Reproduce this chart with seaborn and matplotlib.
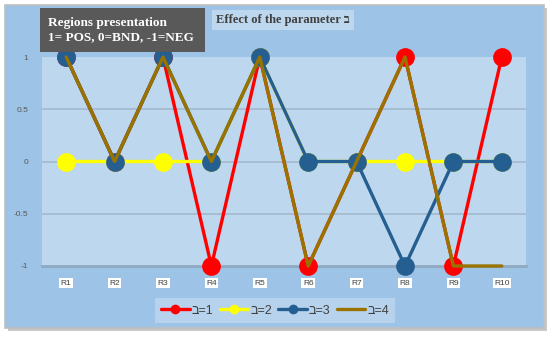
import numpy as np
import pandas as pd
import matplotlib
matplotlib.use("Agg")
import matplotlib.pyplot as plt
from matplotlib.patches import Rectangle
from matplotlib.lines import Line2D
import seaborn as sns

# data
regions = ["R1", "R2", "R3", "R4", "R5", "R6", "R7", "R8", "R9", "R10"]
bet1 = [1, 0, 1, -1, 1, -1, 0, 1, -1, 1]
bet2 = [0, 0, 0, 0, 1, 0, 0, 0, 0, 0]
bet3 = [1, 0, 1, 0, 1, 0, 0, -1, 0, 0]
bet4 = [1, 0, 1, 0, 1, -1, 0, 1, -1, -1]
series_names = ["\u05d1=1", "\u05d1=2", "\u05d1=3", "\u05d1=4"]
y_ticks = [-1, -0.5, 0, 0.5, 1]

sns.set_theme(style="white")
plt.rcParams['font.family'] = ['Liberation Sans', 'DejaVu Sans']

W, H = 550, 337
fig = plt.figure(figsize=(W / 100, H / 100), dpi=100)
fig.patch.set_facecolor("white")

# chart area with a soft shadow
fig.patches.append(Rectangle((8 / W, 1 - 331 / H), 539 / W, 323 / H,
                             transform=fig.transFigure, facecolor="#c8c8c8",
                             edgecolor="none", zorder=0))
fig.patches.append(Rectangle((5 / W, 1 - 328 / H), 539 / W, 323 / H,
                             transform=fig.transFigure, facecolor="#9dc3e6",
                             edgecolor="#bfbfbf", linewidth=1.2, zorder=1))

left, right, top, bottom = 42, 526, 57, 266
ax = fig.add_axes([left / W, 1 - bottom / H, (right - left) / W, (bottom - top) / H])
ax.set_facecolor("#bdd7ee")
ax.set_zorder(2)

pos = np.arange(len(regions))
df = pd.DataFrame({"pos": pos, "b1": bet1, "b2": bet2, "b3": bet3, "b4": bet4})

styles = [
    ("b1", "#ff0000", "o"),
    ("b2", "#ffff00", "o"),
    ("b3", "#255e91", "o"),
    ("b4", "#997300", None),
]
proxies = []
for i, (col, color, mk) in enumerate(styles):
    kw = dict(marker=mk, markersize=13.5, markeredgewidth=0) if mk else {}
    sns.lineplot(data=df, x="pos", y=col, ax=ax, color=color, linewidth=2.4,
                 clip_on=False, zorder=3 + i, **kw)
    proxies.append(Line2D([], [], color=color, linewidth=2.4, marker=mk,
                          markersize=7, markeredgewidth=0))

ax.set_xlim(-0.5, len(regions) - 0.5)
ax.set_ylim(-1, 1)
ax.set_xlabel("")
ax.set_ylabel("")
ax.set_yticks(y_ticks)
ax.set_yticklabels(["-1", "-0.5", "0", "0.5", "1"], fontsize=6, color="#595959")
ax.set_xticks(pos)
ax.set_xticklabels(regions, fontsize=6, color="#404040")
for t in ax.get_xticklabels():
    t.set_bbox(dict(facecolor="white", edgecolor="none", pad=1))
ax.tick_params(axis="x", length=0, pad=10)
ax.tick_params(axis="y", length=0, pad=10)
for y in [0.5, 0, -0.5]:
    ax.axhline(y, color="#a3b8cc", linewidth=1.2, zorder=1)
for s in ["top", "left", "right"]:
    ax.spines[s].set_visible(False)
ax.spines["bottom"].set_color("#8faac2")
ax.spines["bottom"].set_linewidth(2)

# legend
leg = fig.legend(proxies, series_names, loc="center", bbox_to_anchor=(275 / W, 1 - 310.5 / H),
                 ncol=4, frameon=True, fontsize=9, handlelength=2.3,
                 columnspacing=0.5, handletextpad=0.15, borderpad=0.5)
leg.get_frame().set_facecolor("#bdd7ee")
leg.get_frame().set_edgecolor("none")
leg.get_frame().set_boxstyle("square", pad=0)
for t in leg.get_texts():
    t.set_color("#404040")

# title boxes
fig.patches.append(Rectangle((40 / W, 1 - 52 / H), 165 / W, 44 / H,
                             transform=fig.transFigure, facecolor="#595959",
                             edgecolor="none", zorder=5))
fig.text(48 / W, 1 - 30 / H, "Regions presentation\n1= POS, 0=BND, -1=NEG",
         fontsize=9.5, fontweight="bold", color="white", va="center", ha="left",
         family=["Liberation Serif", "DejaVu Serif"], linespacing=1.2, zorder=6)
fig.text(216 / W, 1 - 20 / H, "Effect of the parameter \u05d1",
         fontsize=9, fontweight="bold", color="#404040", va="center", ha="left",
         family=["Liberation Serif", "DejaVu Serif"], zorder=6,
         bbox=dict(facecolor="#bdd7ee", edgecolor="none", pad=3))

fig.savefig("out.png", dpi=100)
